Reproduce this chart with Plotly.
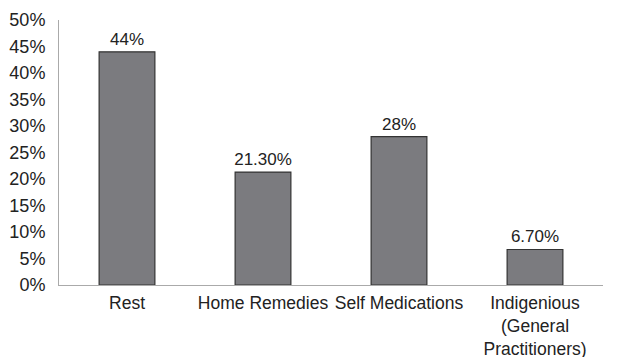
import plotly.graph_objects as go

categories = ["Rest", "Home Remedies", "Self Medications", "Indigenious<br>(General<br>Practitioners)"]
values = [44, 21.3, 28, 6.7]
value_labels = ["44%", "21.30%", "28%", "6.70%"]
tick_vals = [0, 5, 10, 15, 20, 25, 30, 35, 40, 45, 50]
tick_text = [f"{v}%" for v in tick_vals]

fig = go.Figure(go.Bar(
    x=categories, y=values, text=value_labels, textposition="outside",
    textfont=dict(size=17, color="#222"),
    marker=dict(color="#7b7b7f", line=dict(color="#333333", width=1.2)),
    width=0.41, cliponaxis=False,
))
fig.update_layout(
    width=630, height=357,
    margin=dict(l=59, r=27, t=20, b=72),
    plot_bgcolor="white", paper_bgcolor="white",
    font=dict(family="Liberation Sans, Arial, sans-serif", size=17, color="#222"),
    showlegend=False,
    uniformtext=dict(minsize=17, mode="show"),
    xaxis=dict(showline=True, linecolor="#aaaaaa", linewidth=1, ticks="", showgrid=False,
               tickfont=dict(size=17.5), ticklabelstandoff=2, automargin=False),
    yaxis=dict(range=[0, 50], tickvals=tick_vals, ticktext=tick_text, showline=True,
               linecolor="#aaaaaa", linewidth=1, showgrid=False, zeroline=False, ticks="",
               tickfont=dict(size=18), ticklabelstandoff=9, automargin=False),
)
fig.write_html("out.html")
